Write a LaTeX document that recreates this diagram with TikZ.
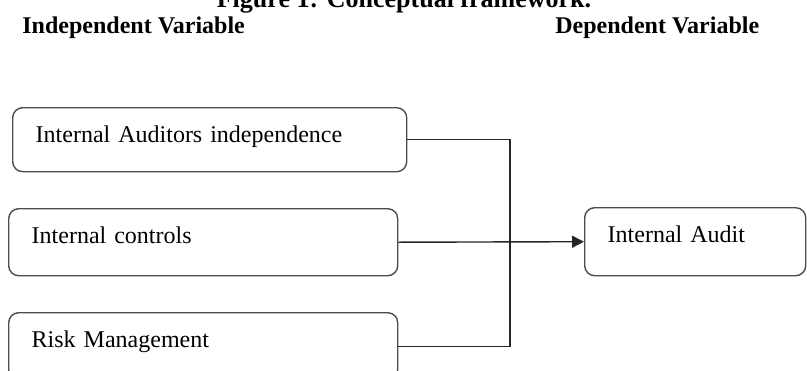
\documentclass[tikz,border=0pt]{standalone}
\usepackage{fontspec}
\setmainfont{Liberation Serif}
\usetikzlibrary{arrows.meta,positioning}

\begin{document}
\begin{tikzpicture}[x=0.5pt,y=-0.5pt,
  box/.style={draw=black!70,line width=0.7pt,rounded corners=5pt,anchor=north west,align=left,inner xsep=11.5pt,inner ysep=0pt,text height=17.5pt,font=\fontsize{12}{14}\selectfont},
  head/.style={font=\fontsize{12}{14}\selectfont\bfseries,anchor=base west,inner sep=0pt},
  link/.style={line width=0.7pt,black!85}]
  \useasboundingbox (0,0) rectangle (807,370);
  %titles
  \node[head,anchor=base,font=\fontsize{13}{15}\selectfont\bfseries] (fig) at (404,7) {Figure 1: Conceptual framework.};
  \node[head] (indep) at (22,33) {Independent Variable};
  \node[head] (dep) at (555,33) {Dependent Variable};
  %left
  \node[box,text width=174pt,text depth=14.5pt] (aud) at (12,107) {Internal Auditors independence};
  \node[box,text width=171.5pt,text depth=16pt] (ctrl) at (8,208) {Internal controls};
  \node[box,text width=171.5pt,text depth=16pt] (risk) at (8,312) {Risk Management};
  %right
  \node[box,text width=87.5pt,text depth=16.5pt] (ia) at (584,207) {Internal Audit};
  %links
  \coordinate (jn) at (510,243);
  \draw[link] (aud.east) -- (aud.east -| jn) -- (risk.east -| jn) -- (risk.east);
  \draw[link,-{Triangle[length=6pt,width=6pt]}] (ctrl.east) -- (ia.west);
\end{tikzpicture}
\end{document}
